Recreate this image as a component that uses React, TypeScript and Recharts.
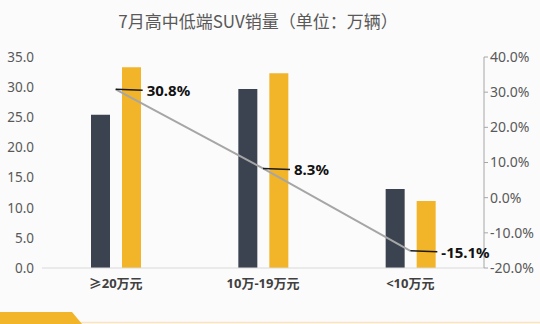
import React from 'react';
import { ComposedChart, Bar, Line, XAxis, YAxis, LabelList } from 'recharts';

const categories = ['≥20万元', '10万-19万元', '<10万元'];
const sales2016 = [25.4, 29.7, 13.1];
const sales2017 = [33.3, 32.3, 11.1];
const growth = [30.8, 8.3, -15.1];

const leftTicks = [0, 5, 10, 15, 20, 25, 30, 35];
const rightTicks = [-20, -10, 0, 10, 20, 30, 40];

const data = categories.map((name, i) => ({
  name,
  prev: sales2016[i],
  curr: sales2017[i],
  growth: growth[i],
}));

const FONT = '"Noto Sans", "Noto Sans CJK SC", sans-serif';

// short black leader line from the point, then the bold value
const GrowthLabel = (props: any) => {
  const { x, y, value } = props;
  if (x == null || y == null) return null;
  return (
    <g>
      <line x1={x} y1={y} x2={x + 27} y2={y + 1} stroke="#1a1a1a" strokeWidth={1.5} />
      <text
        x={x + 31}
        y={y + 1}
        dominantBaseline="central"
        fontSize={15}
        fontWeight={700}
        fill="#111"
        fontFamily={FONT}
      >
        {value.toFixed(1)}%
      </text>
    </g>
  );
};

const App: React.FC = () => {
  return (
    <div
      style={{
        position: 'fixed',
        left: 0,
        top: 0,
        width: 540,
        height: 324,
        background: '#fbfbfb',
        overflow: 'hidden',
        fontFamily: FONT,
      }}
    >
      <div
        style={{
          position: 'absolute',
          top: 8,
          left: 0,
          width: 516,
          textAlign: 'center',
          fontSize: 17,
          color: '#595959',
          fontFamily: '"Noto Sans CJK SC", sans-serif',
        }}
      >
        7月高中低端SUV销量（单位：万辆）
      </div>
      <div style={{ position: 'absolute', left: 0, top: 0 }}>
        <ComposedChart
          width={540}
          height={300}
          data={data}
          margin={{ top: 57, right: 0, left: 0, bottom: 0 }}
          barSize={19}
          barGap={12}
        >
          <XAxis
            dataKey="name"
            height={32}
            axisLine={{ stroke: '#d9d9d9' }}
            tickLine={false}
            tickMargin={5}
            tick={{ fontSize: 13, fontWeight: 700, fill: '#404040', fontFamily: FONT }}
          />
          <YAxis
            yAxisId="left"
            width={42}
            domain={[0, 35]}
            ticks={leftTicks}
            axisLine={false}
            tickLine={false}
            tickFormatter={(v: number) => v.toFixed(1)}
            tick={{ fontSize: 13.5, fill: '#595959', fontFamily: FONT }}
          />
          <YAxis
            yAxisId="right"
            orientation="right"
            width={56}
            domain={[-20, 40]}
            ticks={rightTicks}
            axisLine={{ stroke: '#a6a6a6' }}
            tickLine={{ stroke: '#a6a6a6' }}
            tickSize={4}
            tickMargin={2}
            tickFormatter={(v: number) => v.toFixed(1) + '%'}
            tick={{ fontSize: 14, fill: '#595959', fontFamily: FONT }}
          />
          <Bar yAxisId="left" dataKey="prev" fill="#3c4350" isAnimationActive={false} />
          <Bar yAxisId="left" dataKey="curr" fill="#f2b428" isAnimationActive={false} />
          <Line
            yAxisId="right"
            type="linear"
            dataKey="growth"
            stroke="#a6a6a6"
            strokeWidth={2}
            dot={false}
            activeDot={false}
            isAnimationActive={false}
          >
            <LabelList dataKey="growth" content={<GrowthLabel />} />
          </Line>
        </ComposedChart>
      </div>
      <svg
        width={540}
        height={14}
        style={{ position: 'absolute', left: 0, top: 310 }}
      >
        <line x1={0} y1={12.5} x2={540} y2={12.5} stroke="#fbe3bd" strokeWidth={1.5} />
        <polygon points="0,2 72,2 82,14 0,14" fill="#f2b428" />
      </svg>
    </div>
  );
};

export default App;
